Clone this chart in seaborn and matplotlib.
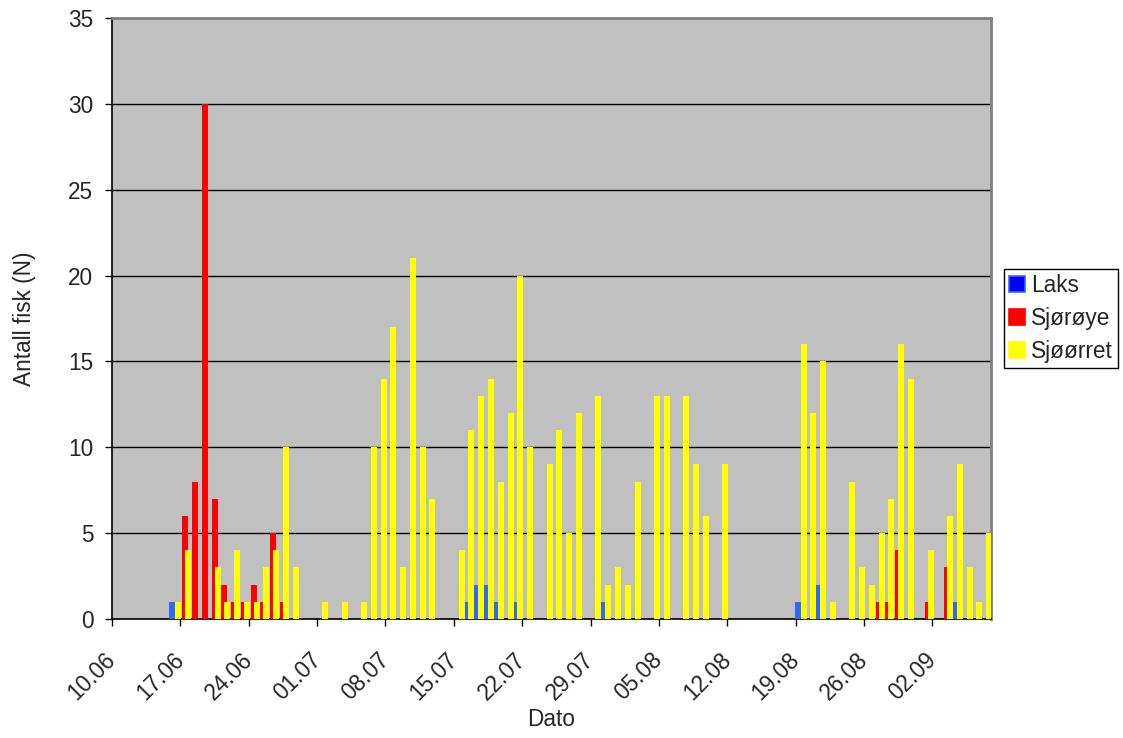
import numpy as np
import pandas as pd
import matplotlib
matplotlib.use("Agg")
import matplotlib.pyplot as plt
import matplotlib.transforms as mtransforms
from matplotlib.patches import Patch
import seaborn as sns

# ---- data -------------------------------------------------------------
dates = [d.strftime("%d.%m") for d in pd.date_range("2000-06-10", "2000-09-07", freq="D")]

# one row per week, starting 10.06, 17.06, 24.06, ...
laks = [
    0, 0, 0, 0, 0, 0, 1,
    0, 0, 0, 0, 0, 0, 0,
    0, 0, 0, 0, 0, 0, 0,
    0, 0, 0, 0, 0, 0, 0,
    0, 0, 0, 0, 0, 0, 0,
    0, 1, 2, 2, 1, 0, 1,
    0, 0, 0, 0, 0, 0, 0,
    0, 1, 0, 0, 0, 0, 0,
    0, 0, 0, 0, 0, 0, 0,
    0, 0, 0, 0, 0, 0, 0,
    1, 0, 2, 0, 0, 0, 0,
    0, 0, 0, 0, 0, 0, 0,
    0, 0, 1, 0, 0, 0,
]
sjoroye = [
    0, 0, 0, 0, 0, 0, 0,
    6, 8, 30, 7, 2, 1, 1,
    2, 1, 5, 1, 0, 0, 0,
    0, 0, 0, 0, 0, 0, 0,
    0, 0, 0, 0, 0, 0, 0,
    0, 0, 0, 0, 0, 0, 0,
    0, 0, 0, 0, 0, 0, 0,
    0, 0, 0, 0, 0, 0, 0,
    0, 0, 0, 0, 0, 0, 0,
    0, 0, 0, 0, 0, 0, 0,
    0, 0, 0, 0, 0, 0, 0,
    0, 1, 1, 4, 0, 0, 1,
    0, 3, 0, 0, 0, 0,
]
sjoorret = [
    0, 0, 0, 0, 0, 0, 1,
    4, 0, 0, 3, 1, 4, 1,
    1, 3, 4, 10, 3, 0, 0,
    1, 0, 1, 0, 1, 10, 14,
    17, 3, 21, 10, 7, 0, 0,
    4, 11, 13, 14, 8, 12, 20,
    10, 0, 9, 11, 5, 12, 0,
    13, 2, 3, 2, 8, 0, 13,
    13, 0, 13, 9, 6, 0, 9,
    0, 0, 0, 0, 0, 0, 0,
    16, 12, 15, 1, 0, 8, 3,
    2, 5, 7, 16, 14, 0, 4,
    0, 6, 9, 3, 1, 5,
]
species = ["Laks", "Sjørøye", "Sjøørret"]
colors = ["#3366FF", "#FF0000", "#FFFF00"]
y_ticks = [0, 5, 10, 15, 20, 25, 30, 35]
x_label = "Dato"
y_label = "Antall fisk (N)"

df = pd.DataFrame({
    "Dato": dates * 3,
    "Art": [species[0]] * len(dates) + [species[1]] * len(dates) + [species[2]] * len(dates),
    "Antall": laks + sjoroye + sjoorret,
})

# ---- style --------------------------------------------------------------
sns.set_style("white")
plt.rcParams["font.family"] = ["Liberation Sans", "DejaVu Sans"]
FS = 16.3

fig = plt.figure(figsize=(11.23, 7.38), dpi=100)
ax = fig.add_axes([112 / 1123, 1 - 619 / 738, 879 / 1123, 601 / 738])
ax.set_facecolor("#C0C0C0")

sns.barplot(data=df, x="Dato", y="Antall", hue="Art", order=dates,
            hue_order=species, palette=colors, width=0.92, dodge=True,
            saturation=1, legend=False, linewidth=0, ax=ax, zorder=3)

# widen the bars so neighbouring series overlap, as in the original
for p in ax.patches:
    w = p.get_width()
    c = p.get_x() + w / 2
    p.set_width(2 * w)
    p.set_x(c - w)

ax.set_xlim(-0.5, len(dates) - 0.5)
ax.set_ylim(0, 35)
ax.set_yticks(y_ticks)
ax.set_yticklabels([str(v) for v in y_ticks], fontsize=FS)
ax.yaxis.grid(True, color="black", linewidth=1.0, zorder=1)
ax.xaxis.grid(False)
ax.set_axisbelow(True)

tick_pos = np.arange(0, len(dates), 7) - 0.5
ax.set_xticks(tick_pos)
ax.set_xticklabels([dates[i] for i in range(0, len(dates), 7)], fontsize=FS,
                   rotation=45, ha="right", va="center", rotation_mode="anchor")
shift = mtransforms.ScaledTranslation(-0.04, -0.01, fig.dpi_scale_trans)
for lbl in ax.get_xticklabels():
    lbl.set_transform(lbl.get_transform() + shift)

ax.tick_params(axis="both", direction="out", length=5, width=1, color="black",
               bottom=True, left=True)
ax.tick_params(axis="y", pad=8.5)
ax.tick_params(axis="x", pad=22)

for s in ["left", "bottom"]:
    ax.spines[s].set_color("black")
    ax.spines[s].set_linewidth(1.2)
for s in ["top", "right"]:
    ax.spines[s].set_visible(True)
    ax.spines[s].set_color("#808080")
    ax.spines[s].set_linewidth(2)

ax.set_xlabel(x_label, fontsize=FS, va="center")
ax.xaxis.set_label_coords(0.5, -0.168)
ax.set_ylabel(y_label, fontsize=FS, va="center")
ax.yaxis.set_label_coords(-0.100, 0.5)

handles = [Patch(facecolor=c, edgecolor=e, linewidth=1.2)
           for c, e in zip(["#0000FF", "#FF0000", "#FFFF00"], colors)]
leg = fig.legend(handles, species, loc="upper left",
                 bbox_to_anchor=(1004 / 1123, 1 - 269 / 738),
                 fontsize=FS, frameon=True, fancybox=False, framealpha=1,
                 edgecolor="black", handlelength=0.72, handleheight=0.72,
                 handletextpad=0.25, labelspacing=0.44, borderpad=0.22,
                 borderaxespad=0)
leg.get_frame().set_linewidth(1.0)

fig.savefig("out.png", dpi=100, facecolor="white")
